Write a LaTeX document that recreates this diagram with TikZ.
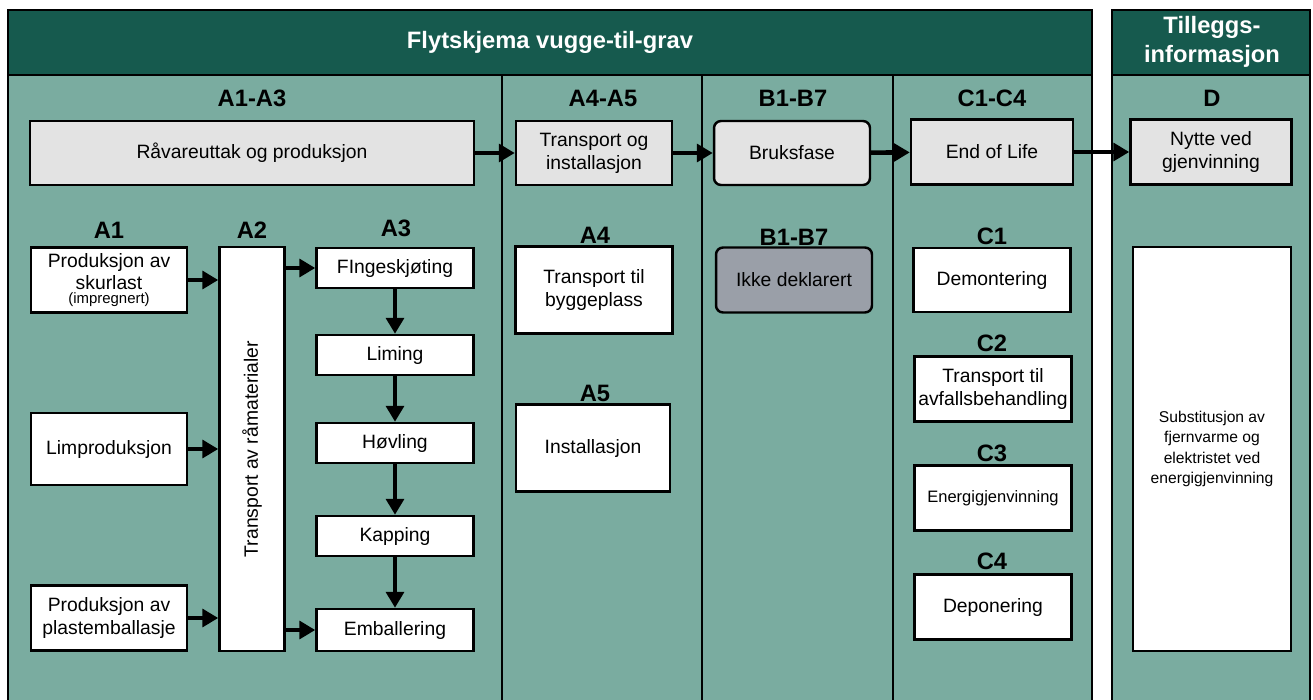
\documentclass[tikz,border=0pt]{standalone}
\usepackage{fontspec}
\setmainfont{Liberation Sans}
\usepackage{tikz}
\usetikzlibrary{arrows.meta, positioning}
\definecolor{darkteal}{HTML}{165A4E}
\definecolor{lightteal}{HTML}{7AACA0}
\definecolor{boxgray}{HTML}{E3E3E3}
\definecolor{offgray}{HTML}{9A9FA8}
\tikzstyle{phase} = [rectangle, draw=black, line width=1.4pt, fill=boxgray, align=center, font=\fontsize{11}{13}\selectfont, minimum width=3.12cm, minimum height=1.28cm, inner sep=1pt]
\tikzstyle{process} = [rectangle, draw=black, line width=1.4pt, fill=white, align=center, font=\fontsize{11}{13}\selectfont, minimum width=3.12cm, minimum height=1.3cm, inner sep=1pt]
\tikzstyle{stage} = [process, minimum width=3.14cm, minimum height=0.8cm]
\tikzstyle{module} = [font=\bfseries\fontsize{13.5}{15}\selectfont]
\tikzstyle{heading} = [text=white, align=center, font=\bfseries\fontsize{13.5}{16.5}\selectfont]
\tikzstyle{flow} = [-{Triangle[length=9pt,width=10pt]}, line width=2.6pt]

\begin{document}
\begin{tikzpicture}[x=0.02cm, y=-0.02cm]
		\useasboundingbox (0,0) rectangle (1313,700);
		% panels
		\draw[line width=1.6pt, fill=lightteal] (8,10) rectangle (1092,712);
		\draw[line width=1.6pt, fill=darkteal] (8,10) rectangle (1092,75);
		\draw[line width=1.6pt, fill=lightteal] (1112,10) rectangle (1310,712);
		\draw[line width=1.6pt, fill=darkteal] (1112,10) rectangle (1310,75);
		\foreach \x in {502, 702, 893}
			\draw[line width=1.6pt] (\x,75) -- (\x,712);
		\node (Main Title)[heading] at (550,42) {Flytskjema vugge-til-grav};
		\node (Extra Title)[heading] at (1212,42) {Tilleggs-\\informasjon};
		% module labels
		\node (A1-A3)[module] at (252,98) {A1-A3};
		\node (A4-A5)[module] at (603,98) {A4-A5};
		\node (B1-B7)[module] at (793,98) {B1-B7};
		\node (C1-C4)[module] at (992,98) {C1-C4};
		\node (D)[module] at (1212,98) {D};
		% main flow
		\node (Raavare)[phase, minimum width=8.88cm] at (252,153) {Råvareuttak og produksjon};
		\node (Transport)[phase] at (594,153) {Transport og\\installasjon};
		\node (Bruk)[phase, rounded corners=4pt] at (792,153) {Bruksfase};
		\node (EoL)[phase, minimum width=3.24cm, minimum height=1.3cm] at (992,152) {End of Life};
		\node (Nytte)[phase, minimum width=3.22cm, minimum height=1.3cm] at (1211,152) {Nytte ved\\gjenvinning};
		\draw [flow] (Raavare) -- (Transport);
		\draw [flow] (Transport) -- (Bruk);
		\draw [flow] (Bruk) -- (EoL);
		\draw [flow] (EoL) -- (Nytte);
		% A1-A3
		\node (A1)[module] at (109,230) {A1};
		\node (A2)[module] at (252,230) {A2};
		\node (A3)[module] at (396,228) {A3};
		\node (Skurlast)[process] at (109,280) {Produksjon av\\skurlast\\[-5pt]{\fontsize{8.5}{8.5}\selectfont(impregnert)}};
		\node (Lim)[process, minimum height=1.44cm] at (109,449) {Limproduksjon};
		\node (Plast)[process] at (109,618) {Produksjon av\\plastemballasje};
		\node (Ramaterialer)[process, minimum width=1.3cm, minimum height=8.08cm] at (252,449) {};
		\node [rotate=90, font=\fontsize{11}{13}\selectfont] at (Ramaterialer) {Transport av råmaterialer};
		\node (Fingeskjoting)[stage] at (395,268) {FIngeskjøting};
		\node (Liming)[stage] at (395,355) {Liming};
		\node (Hovling)[stage] at (395,443) {Høvling};
		\node (Kapping)[stage] at (395,536) {Kapping};
		\node (Emballering)[stage, minimum height=0.84cm] at (395,630) {Emballering};
		\draw [flow] (Skurlast.east) -- (Skurlast.east -| Ramaterialer.west);
		\draw [flow] (Lim.east) -- (Lim.east -| Ramaterialer.west);
		\draw [flow] (Plast.east) -- (Plast.east -| Ramaterialer.west);
		\draw [flow] (Fingeskjoting.west -| Ramaterialer.east) -- (Fingeskjoting.west);
		\draw [flow] (Emballering.west -| Ramaterialer.east) -- (Emballering.west);
		\draw [flow] (Fingeskjoting) -- (Liming);
		\draw [flow] (Liming) -- (Hovling);
		\draw [flow] (Hovling) -- (Kapping);
		\draw [flow] (Kapping) -- (Emballering);
		% A4-A5
		\node (A4)[module] at (595,235) {A4};
		\node (Byggeplass)[process, minimum width=3.14cm, minimum height=1.74cm] at (594,290) {Transport til\\byggeplass};
		\node (A5)[module] at (595,393) {A5};
		\node (Installasjon)[process, minimum width=3.08cm, minimum height=1.74cm] at (593,448) {Installasjon};
		% B1-B7
		\node (B1-B7 sub)[module] at (794,237) {B1-B7};
		\node (Ikke)[process, fill=offgray, rounded corners=4pt] at (794,280) {Ikke deklarert};
		% C1-C4
		\node (C1)[module] at (992,236) {C1};
		\node (Demontering)[process, minimum width=3.14cm, minimum height=1.28cm] at (992,280) {Demontering};
		\node (C2)[module] at (992,343) {C2};
		\node (Avfall)[process, minimum width=3.14cm] at (993,389) {Transport til\\avfallsbehandling};
		\node (C3)[module] at (992,453) {C3};
		\node (Energi)[process, minimum width=3.14cm, font=\fontsize{9.4}{11}\selectfont] at (993,498) {Energigjenvinning};
		\node (C4)[module] at (992,561) {C4};
		\node (Deponering)[process, minimum width=3.14cm] at (993,607) {Deponering};
		% D
		\node (Substitusjon)[process, minimum width=3.16cm, minimum height=8.08cm, font=\fontsize{8.9}{11.5}\selectfont] at (1212,449) {Substitusjon av\\fjernvarme og\\elektristet ved\\energigjenvinning};
	\end{tikzpicture}
\end{document}
